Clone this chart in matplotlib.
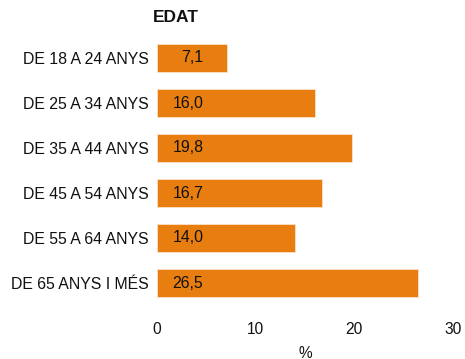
import matplotlib
matplotlib.use("Agg")
import matplotlib.pyplot as plt

categories = ["DE 18 A 24 ANYS", "DE 25 A 34 ANYS", "DE 35 A 44 ANYS",
              "DE 45 A 54 ANYS", "DE 55 A 64 ANYS", "DE 65 ANYS I MÉS"]
values = [7.1, 16.0, 19.8, 16.7, 14.0, 26.5]
xticks = [0, 10, 20, 30]
title = "EDAT"
xlabel = "%"

plt.rcParams['font.family'] = ['Liberation Sans', 'DejaVu Sans']

fig = plt.figure(figsize=(4.65, 3.59), dpi=100)
W, H = 465, 359
left, right = 157 / W, 453 / W
top_px, bot_px = 35.5, 305.5
ax = fig.add_axes([left, 1 - bot_px / H, right - left, (bot_px - top_px) / H])

ypos = list(range(len(categories)))
ax.barh(ypos, values, height=0.62, color="#E87D10", edgecolor="#FBE3CC", linewidth=0.6)
ax.set_ylim(len(categories) - 0.5, -0.5)
ax.set_xlim(0, 30)
ax.set_xticks(xticks)
ax.set_xticklabels([str(t) for t in xticks], fontsize=11.2)
ax.set_yticks(ypos)
ax.set_yticklabels(categories, fontsize=11.4)
ax.tick_params(axis='x', length=0, pad=12, colors="#111111")
ax.tick_params(axis='y', length=0, pad=6, colors="#111111")
for s in ax.spines.values():
    s.set_visible(False)

for y, v in zip(ypos, values):
    ax.text(4.7, y, f"{v:.1f}".replace(".", ","), ha="right", va="center",
            fontsize=11.4, color="#111111")

ax.set_xlabel(xlabel, fontsize=11.2, labelpad=6, color="#111111")
fig.text(153 / W, 1 - 18 / H, title, fontsize=12.5, fontweight="bold",
         ha="left", va="center", color="#111111")

fig.savefig("out.png", dpi=100)
